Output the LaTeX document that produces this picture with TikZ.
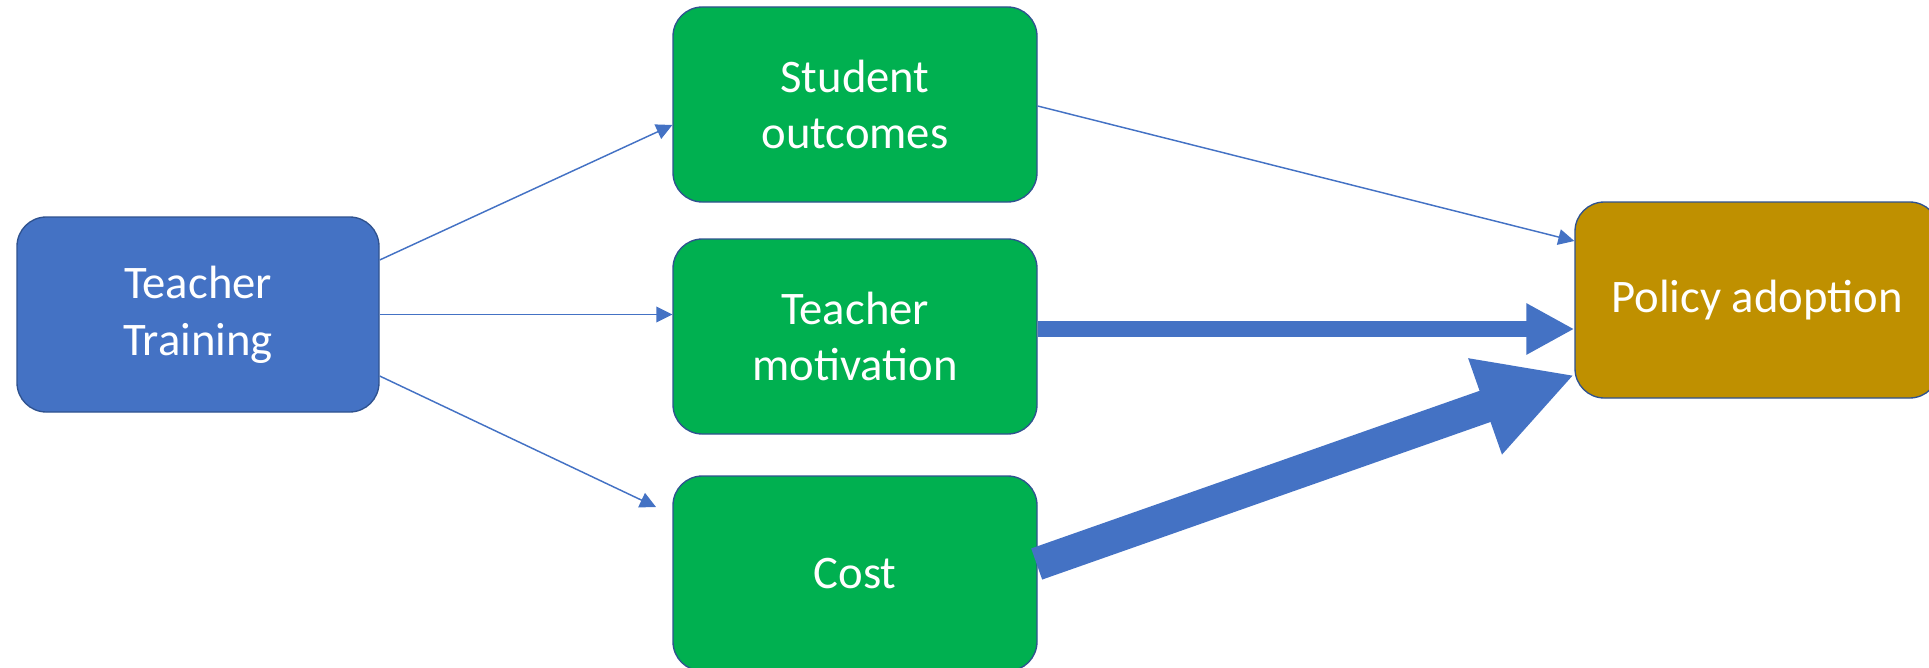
\documentclass[tikz,border=0pt]{standalone}
\usepackage{fontspec}
\setmainfont{Carlito}
\usetikzlibrary{arrows.meta,calc}
\definecolor{tblue}{HTML}{4472C4}
\definecolor{tgreen}{HTML}{00B050}
\definecolor{tgold}{HTML}{BF9000}
\definecolor{tborder}{HTML}{2F528F}
\begin{document}
\begin{tikzpicture}[x=0.75pt,y=-0.75pt,
  box/.style={draw=tborder,line width=1pt,rounded corners=22pt,inner sep=0pt,
    minimum width=273pt,minimum height=146.25pt,align=center,text=white,
    font=\fontsize{35pt}{42.5pt}\selectfont},
  thin/.style={draw=tblue,line width=1.1pt,-{Triangle[length=12pt,width=11.8pt]}},
  fatA/.style={draw=tblue,line width=12pt,-{Triangle[length=36pt,width=36pt]}},
  fatB/.style={draw=tblue,line width=24.75pt,-{Triangle[length=71pt,width=71pt]}}]
\useasboundingbox (0,0) rectangle (1929,667);
\node[box,fill=tblue,minimum width=271.5pt] (tt) at (198,314.5) {Teacher\\Training};
\node[box,fill=tgreen] (so) at (855,104.5) {Student\\outcomes};
\node[box,fill=tgreen] (mot) at (855,336.5) {Teacher\\motivation};
\node[box,fill=tgreen] (cost) at (855,573.5) {Cost};
\node[box,fill=tgold,minimum height=147pt] (pol) at (1757,300) {Policy adoption};
\coordinate (c3) at (656,507);
\draw[thin] ($(tt.east)+(0,-54.5)$) -- ($(so.west)+(0,20.5)$);
\draw[thin] (tt.east) -- (tt.east -| mot.west);
\draw[thin] ($(tt.east)+(0,61.5)$) -- (c3);
\draw[thin] ($(so.east)+(0,1.5)$) -- ($(pol.west)+(0,-59)$);
\draw[fatA] ($(mot.east)+(0,-7.5)$) -- ($(pol.west)+(0,29)$);
\draw[fatB] ($(cost.east)+(-1,-9.5)$) -- ($(pol.west)+(0,75)$);
\end{tikzpicture}
\end{document}
